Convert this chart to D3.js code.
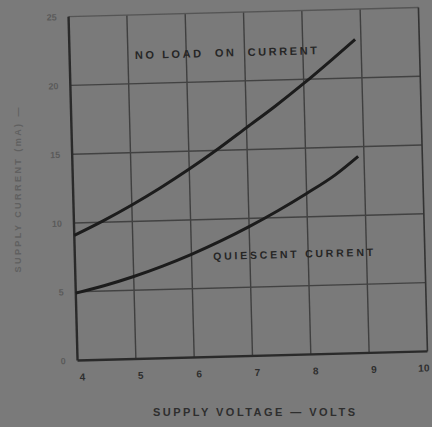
<!DOCTYPE html>
<html>
<head>
<meta charset="utf-8">
<script src="https://cdnjs.cloudflare.com/ajax/libs/d3/7.8.5/d3.min.js"></script>
<style>
  body { margin: 0; background: #797979; }
  text { font-family: "Liberation Sans", Arial, sans-serif; font-weight: bold; }
</style>
</head>
<body>
<div id="chart"></div>
<script>
// data
var voltage = [4, 4.5, 5, 5.5, 6, 6.5, 7, 7.5, 8, 8.5, 8.9];
var noLoadCurrent = [9.1, 10.1, 11.2, 12.4, 13.7, 15.1, 16.6, 18.1, 19.7, 21.4, 22.8];
var quiescentCurrent = [4.9, 5.4, 6.0, 6.7, 7.5, 8.4, 9.4, 10.5, 11.7, 13.0, 14.3];
var xTicks = [4, 5, 6, 7, 8, 9, 10];
var yTicks = [0, 5, 10, 15, 20, 25];

var svgWidth = 432;
var svgHeight = 427;

var margin = { top: 12, right: 9, bottom: 71, left: 73 };
var chartWidth = svgWidth - margin.left - margin.right;
var chartHeight = svgHeight - margin.top - margin.bottom;

var svg = d3.select("#chart")
  .append("svg")
  .attr("width", svgWidth)
  .attr("height", svgHeight);

svg.append("rect")
  .attr("width", svgWidth)
  .attr("height", svgHeight)
  .attr("fill", "#7a7a7a");

// the scan is a little tilted, so the whole plot is turned a touch
var cx = margin.left + chartWidth / 2;
var cy = margin.top + chartHeight / 2;
var chartGroup = svg.append("g")
  .attr("transform", `rotate(-1.5, ${cx}, ${cy}) translate(${margin.left}, ${margin.top})`);

var xScale = d3.scaleLinear().domain([4, 10]).range([0, chartWidth]);
var yScale = d3.scaleLinear().domain([0, 25]).range([chartHeight, 0]);

// grid
chartGroup.selectAll(".vgrid")
  .data(xTicks.slice(1, -1))
  .enter().append("line")
  .attr("class", "vgrid")
  .attr("x1", d => xScale(d)).attr("x2", d => xScale(d))
  .attr("y1", 0).attr("y2", chartHeight)
  .attr("stroke", "#3f3f3f")
  .attr("stroke-width", 1.4);

chartGroup.selectAll(".hgrid")
  .data(yTicks.slice(1, -1))
  .enter().append("line")
  .attr("class", "hgrid")
  .attr("x1", 0).attr("x2", chartWidth)
  .attr("y1", d => yScale(d)).attr("y2", d => yScale(d))
  .attr("stroke", "#424242")
  .attr("stroke-width", 1.4);

// frame: top and right are lighter in the scan
chartGroup.append("line")
  .attr("x1", 0).attr("x2", chartWidth).attr("y1", 0).attr("y2", 0)
  .attr("stroke", "#555").attr("stroke-width", 1.3);
chartGroup.append("line")
  .attr("x1", chartWidth).attr("x2", chartWidth).attr("y1", 0).attr("y2", chartHeight)
  .attr("stroke", "#333").attr("stroke-width", 1.6);
chartGroup.append("line")
  .attr("x1", 0).attr("x2", 0).attr("y1", 0).attr("y2", chartHeight)
  .attr("stroke", "#2a2a2a").attr("stroke-width", 2.4);
chartGroup.append("line")
  .attr("x1", 0).attr("x2", chartWidth).attr("y1", chartHeight).attr("y2", chartHeight)
  .attr("stroke", "#2a2a2a").attr("stroke-width", 2.4);

// axes (labels only, lines are drawn above)
var bottomAxis = d3.axisBottom(xScale).tickValues(xTicks).tickFormat(d3.format("d")).tickSize(0).tickPadding(13);
var leftAxis = d3.axisLeft(yScale).tickValues(yTicks).tickFormat(d3.format("d")).tickSize(0).tickPadding(12);

var xAxisG = chartGroup.append("g")
  .attr("transform", `translate(4, ${chartHeight})`)
  .call(bottomAxis);
xAxisG.select(".domain").remove();
xAxisG.selectAll("text")
  .attr("fill", "#2e2e2e")
  .style("font-size", "10px");
// last label sits against the page edge
xAxisG.selectAll(".tick").filter(d => d == 10).select("text")
  .attr("text-anchor", "end")
  .attr("dx", "-3");

var yAxisG = chartGroup.append("g")
  .call(leftAxis);
yAxisG.select(".domain").remove();
yAxisG.selectAll("text")
  .attr("fill", "#5a5a5a")
  .style("font-size", "9px");

// curves
var line = d3.line()
  .x((d, i) => xScale(voltage[i]))
  .y(d => yScale(d))
  .curve(d3.curveMonotoneX);

chartGroup.append("path")
  .datum(noLoadCurrent)
  .attr("d", line)
  .attr("fill", "none")
  .attr("stroke", "#1c1c1c")
  .attr("stroke-width", 3);

chartGroup.append("path")
  .datum(quiescentCurrent)
  .attr("d", line)
  .attr("fill", "none")
  .attr("stroke", "#1c1c1c")
  .attr("stroke-width", 3);

// curve labels
chartGroup.append("text")
  .attr("x", xScale(5.12))
  .attr("y", yScale(21.8))
  .attr("textLength", 182)
  .attr("lengthAdjust", "spacing")
  .attr("fill", "#262626")
  .style("font-size", "11px")
  .style("white-space", "pre")
  .text("NO LOAD  ON  CURRENT");

chartGroup.append("text")
  .attr("x", xScale(6.37))
  .attr("y", yScale(7.05))
  .attr("textLength", 160)
  .attr("lengthAdjust", "spacing")
  .attr("fill", "#262626")
  .style("font-size", "10.5px")
  .text("QUIESCENT CURRENT");

// axis titles
svg.append("text")
  .attr("x", 254)
  .attr("y", 416)
  .attr("text-anchor", "middle")
  .attr("textLength", 202)
  .attr("lengthAdjust", "spacing")
  .attr("fill", "#2e2e2e")
  .style("font-size", "11px")
  .text("SUPPLY VOLTAGE — VOLTS");

svg.append("text")
  .attr("transform", "translate(21, 190) rotate(-90)")
  .attr("text-anchor", "middle")
  .attr("textLength", 165)
  .attr("lengthAdjust", "spacing")
  .attr("fill", "#606060")
  .style("font-size", "9px")
  .text("SUPPLY CURRENT (mA) —");
</script>
</body>
</html>
